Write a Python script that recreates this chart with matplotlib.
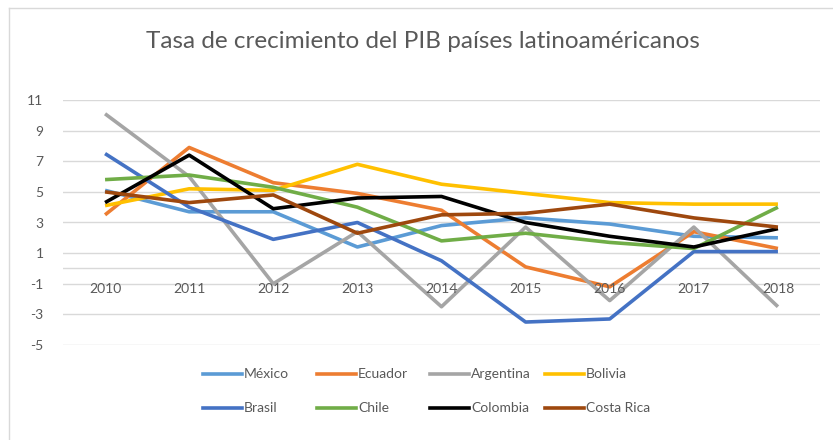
import matplotlib
matplotlib.use("Agg")
import matplotlib.pyplot as plt
from matplotlib.lines import Line2D

years = ["2010", "2011", "2012", "2013", "2014", "2015", "2016", "2017", "2018"]
mexico = [5.1, 3.7, 3.7, 1.4, 2.8, 3.3, 2.9, 2.1, 2.0]
ecuador = [3.5, 7.9, 5.6, 4.9, 3.8, 0.1, -1.2, 2.4, 1.3]
argentina = [10.1, 6.0, -1.0, 2.4, -2.5, 2.7, -2.1, 2.7, -2.5]
bolivia = [4.1, 5.2, 5.1, 6.8, 5.5, 4.9, 4.3, 4.2, 4.2]
brasil = [7.5, 4.0, 1.9, 3.0, 0.5, -3.5, -3.3, 1.1, 1.1]
chile = [5.8, 6.1, 5.3, 4.0, 1.8, 2.3, 1.7, 1.3, 4.0]
colombia = [4.3, 7.4, 3.9, 4.6, 4.7, 3.0, 2.1, 1.4, 2.6]
costa_rica = [5.0, 4.3, 4.8, 2.3, 3.5, 3.6, 4.2, 3.3, 2.7]

names = ["México", "Ecuador", "Argentina", "Bolivia", "Brasil", "Chile", "Colombia", "Costa Rica"]
series = [mexico, ecuador, argentina, bolivia, brasil, chile, colombia, costa_rica]
colors = ["#5B9BD5", "#ED7D31", "#A5A5A5", "#FFC000", "#4472C4", "#70AD47", "#000000", "#9E480E"]
yticks = [11, 9, 7, 5, 3, 1, -1, -3, -5]

W, H = 833, 440
fig = plt.figure(figsize=(W / 100, H / 100), dpi=100)
fig.patch.set_facecolor("white")
FONT = ["Lato", "DejaVu Sans"]
TXT = "#595959"
GRID = "#D9D9D9"

# frame
fig.add_artist(Line2D([9 / W, 9 / W], [0, 1 - 8 / H], color=GRID, lw=1.0))
fig.add_artist(Line2D([9 / W, 1], [1 - 8 / H, 1 - 8 / H], color=GRID, lw=1.0))

ax = fig.add_axes([63 / W, 1 - 345 / H, (820 - 63) / W, (345 - 100) / H])
x = list(range(len(years)))
ax.set_xlim(-0.5, len(years) - 0.5)
ax.set_ylim(-5, 11)
for v in yticks:
    ax.axhline(v, color=GRID, lw=1.0, zorder=0)
ax.axhline(0, color=GRID, lw=1.0, zorder=0)

for s, c in zip(series, colors):
    ax.plot(x, s, color=c, lw=2.6, solid_joinstyle="round", solid_capstyle="butt", zorder=3)

for sp in ax.spines.values():
    sp.set_visible(False)
ax.set_yticks(yticks)
ax.set_yticklabels([str(v) for v in yticks], fontsize=10, color=TXT, family=FONT)
ax.tick_params(axis="y", length=0, pad=14)
ax.set_xticks([])
for i, yr in enumerate(years):
    ax.annotate(yr, (i, 0), xytext=(0, -15), textcoords="offset pixels",
                ha="center", va="top", fontsize=10, color=TXT, family=FONT)

fig.text(423 / W, 1 - 42 / H, "Tasa de crecimiento del PIB países latinoaméricanos",
         ha="center", va="center", fontsize=17.5, color=TXT, family=FONT)

# legend (2 rows x 4 columns)
col_x = [203, 317, 430, 545]
row_y = [374, 408]
for k, (n, c) in enumerate(zip(names, colors)):
    r, cc = divmod(k, 4)
    x0 = col_x[cc]
    yy = 1 - row_y[r] / H
    fig.add_artist(Line2D([x0 / W, (x0 + 39) / W], [yy, yy], color=c, lw=2.6))
    fig.text((x0 + 41) / W, yy, n, ha="left", va="center", fontsize=10, color=TXT, family=FONT)

fig.savefig("out.png", dpi=100, facecolor="white")
